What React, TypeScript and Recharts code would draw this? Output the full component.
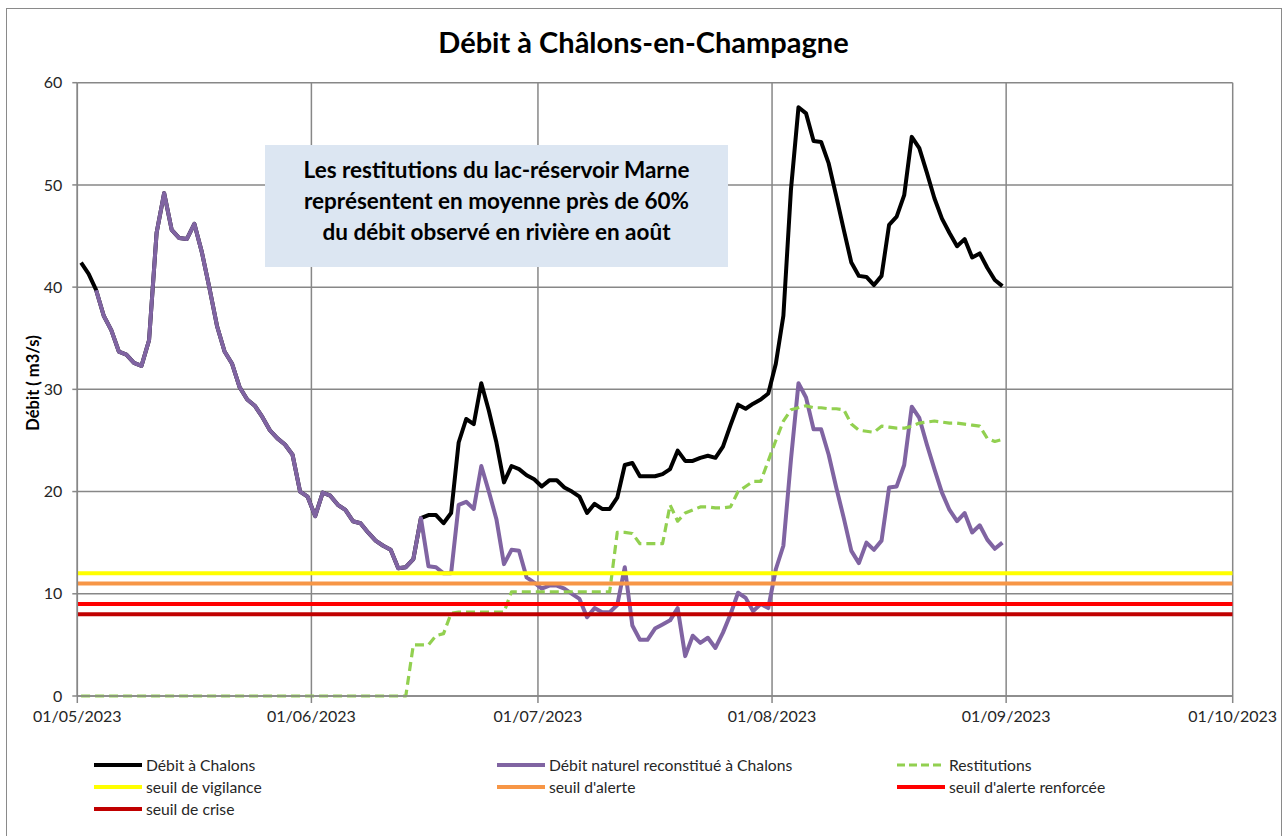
import React from "react";
import { LineChart, Line, XAxis, YAxis, CartesianGrid } from "recharts";

// Day index 0 = 01/05/2023 (daily values)
const debitChalons: number[] = [
  42.4, 41.3, 39.7, 37.2, 35.8, 33.7, 33.4, 32.6, 32.3, 34.8,
  45.3, 49.2, 45.6, 44.8, 44.7, 46.2, 43.4, 39.9, 36.2, 33.7,
  32.5, 30.2, 29.0, 28.4, 27.3, 26.0, 25.2, 24.6, 23.6, 20.0,
  19.5, 17.6, 19.9, 19.6, 18.7, 18.2, 17.1, 16.9, 16.0, 15.2,
  14.7, 14.3, 12.5, 12.6, 13.4, 17.4, 17.7, 17.7, 16.9, 17.9,
  24.8, 27.1, 26.6, 30.6, 27.9, 24.8, 20.9, 22.5, 22.2, 21.6,
  21.2, 20.5, 21.1, 21.1, 20.4, 20.0, 19.5, 17.9, 18.8, 18.3,
  18.3, 19.4, 22.6, 22.8, 21.5, 21.5, 21.5, 21.7, 22.2, 24.0,
  23.0, 23.0, 23.3, 23.5, 23.3, 24.4, 26.5, 28.5, 28.1, 28.6,
  29.0, 29.6, 32.5, 37.2, 49.5, 57.6, 57.0, 54.3, 54.2, 52.1,
  48.9, 45.6, 42.4, 41.1, 41.0, 40.2, 41.1, 46.1, 46.9, 49.0,
  54.7, 53.6, 51.2, 48.7, 46.7, 45.3, 44.0, 44.7, 42.9, 43.3,
  41.9, 40.7, 40.1,
];

const debitNaturel: (number | null)[] = [
  null, null, 39.7, 37.2, 35.8, 33.7, 33.4, 32.6, 32.3, 34.8,
  45.3, 49.2, 45.6, 44.8, 44.7, 46.2, 43.4, 39.9, 36.2, 33.7,
  32.5, 30.2, 29.0, 28.4, 27.3, 26.0, 25.2, 24.6, 23.6, 20.0,
  19.5, 17.6, 19.9, 19.6, 18.7, 18.2, 17.1, 16.9, 16.0, 15.2,
  14.7, 14.3, 12.5, 12.6, 13.4, 17.4, 12.7, 12.6, 12.0, 12.0,
  18.7, 19.0, 18.3, 22.5, 20.0, 17.3, 12.9, 14.3, 14.2, 11.6,
  11.1, 10.5, 10.8, 10.8, 10.5, 10.0, 9.5, 7.7, 8.6, 8.2,
  8.2, 8.9, 12.6, 6.9, 5.5, 5.5, 6.6, 7.0, 7.4, 8.6,
  3.9, 5.9, 5.2, 5.7, 4.7, 6.2, 8.0, 10.1, 9.6, 8.3,
  9.0, 8.6, 12.4, 14.7, 23.1, 30.6, 29.2, 26.1, 26.1, 23.6,
  20.4, 17.4, 14.2, 13.0, 15.0, 14.3, 15.2, 20.4, 20.5, 22.6,
  28.3, 27.2, 24.6, 22.2, 19.9, 18.2, 17.1, 17.9, 16.0, 16.7,
  15.3, 14.4, 15.0,
];

const restitutions: number[] = [
  0, 0, 0, 0, 0, 0, 0, 0, 0, 0,
  0, 0, 0, 0, 0, 0, 0, 0, 0, 0,
  0, 0, 0, 0, 0, 0, 0, 0, 0, 0,
  0, 0, 0, 0, 0, 0, 0, 0, 0, 0,
  0, 0, 0, 0, 5.0, 5.0, 5.0, 5.9, 6.1, 8.1,
  8.2, 8.2, 8.2, 8.2, 8.2, 8.2, 8.2, 10.2, 10.2, 10.2,
  10.2, 10.2, 10.2, 10.2, 10.2, 10.2, 10.2, 10.2, 10.2, 10.2,
  10.2, 16.0, 16.0, 15.9, 14.9, 14.9, 14.9, 14.9, 18.7, 17.1,
  17.9, 18.2, 18.5, 18.5, 18.4, 18.4, 18.5, 20.0, 20.5, 21.0,
  21.0, 23.0, 25.0, 26.9, 28.0, 28.2, 28.4, 28.2, 28.2, 28.1,
  28.1, 28.0, 26.6, 26.0, 25.9, 25.8, 26.4, 26.3, 26.2, 26.2,
  26.4, 26.7, 26.8, 26.9, 26.8, 26.7, 26.7, 26.6, 26.5, 26.4,
  25.2, 24.9, 25.1,
];

const seuilVigilance = 12;
const seuilAlerte = 11;
const seuilAlerteRenforcee = 9;
const seuilCrise = 8;

const tickDays = [0, 31, 61, 92, 123, 153];
const tickLabels = ["01/05/2023", "01/06/2023", "01/07/2023", "01/08/2023", "01/09/2023", "01/10/2023"];
const yTicks = [0, 10, 20, 30, 40, 50, 60];

const rows = debitChalons.map((v, i) => ({
  day: i + 0.5,
  chalons: v,
  naturel: debitNaturel[i],
  restit: restitutions[i],
}));

const domainStart = tickDays[0];
const domainEnd = tickDays[tickDays.length - 1];
const flat = (v: number) => [
  { day: domainStart, v },
  { day: domainEnd, v },
];

const FONT = "Lato, 'Open Sans', sans-serif";
const GRID = "#878787";

const legendItems = [
  { label: "Débit à Chalons", color: "#000000", dash: false, col: 0, row: 0 },
  { label: "Débit naturel reconstitué à Chalons", color: "#8064A2", dash: false, col: 1, row: 0 },
  { label: "Restitutions", color: "#92D050", dash: true, col: 2, row: 0 },
  { label: "seuil de vigilance", color: "#FFFF00", dash: false, col: 0, row: 1 },
  { label: "seuil d'alerte", color: "#F79646", dash: false, col: 1, row: 1 },
  { label: "seuil d'alerte renforcée", color: "#FF0000", dash: false, col: 2, row: 1 },
  { label: "seuil de crise", color: "#C00000", dash: false, col: 0, row: 2 },
];
const colX = [94, 497, 897];
const rowY = [765, 787, 809];

export default function App() {
  return (
    <div style={{ position: "relative", width: 1287, height: 836, overflow: "hidden", background: "#fff", fontFamily: FONT }}>
      <style>{`html,body{margin:0;padding:0;overflow:hidden;background:#fff}`}</style>
      <div
        style={{
          position: "absolute",
          left: 6,
          top: 8,
          width: 1276,
          height: 840,
          border: "1.5px solid #8a8a8a",
          boxSizing: "border-box",
        }}
      />
      <div
        style={{
          position: "absolute",
          left: 0,
          top: 23,
          width: 1287,
          textAlign: "center",
          fontSize: 29,
          fontWeight: 700,
          lineHeight: "38px",
          color: "#000",
        }}
      >
        Débit à Châlons-en-Champagne
      </div>
      <div style={{ position: "absolute", left: 0, top: 0 }}>
        <LineChart
          width={1287}
          height={836}
          data={rows}
          margin={{ top: 82.7, right: 54.3, bottom: 110, left: 0 }}
        >
          <CartesianGrid stroke={GRID} strokeWidth={1.5} />
          <XAxis
            dataKey="day"
            type="number"
            domain={[domainStart, domainEnd]}
            ticks={tickDays}
            interval={0}
            tickFormatter={(v: number) => tickLabels[tickDays.indexOf(v)]}
            height={30}
            tickSize={7}
            tickMargin={8}
            axisLine={{ stroke: GRID, strokeWidth: 1.5 }}
            tickLine={{ stroke: GRID, strokeWidth: 1.5 }}
            tick={{ fill: "#262626", fontSize: 16, fontFamily: FONT }}
            allowDataOverflow
          />
          <YAxis
            type="number"
            domain={[0, 60]}
            ticks={yTicks}
            interval={0}
            width={77.3}
            tickSize={5}
            tickMargin={10}
            axisLine={{ stroke: GRID, strokeWidth: 1.5 }}
            tickLine={{ stroke: GRID, strokeWidth: 1.5 }}
            tick={{ fill: "#262626", fontSize: 16, fontFamily: FONT }}
          />
          <Line type="linear" dataKey="chalons" stroke="#000000" strokeWidth={4} dot={false} activeDot={false} isAnimationActive={false} strokeLinejoin="round" />
          <Line type="linear" dataKey="naturel" stroke="#8064A2" strokeWidth={4} dot={false} activeDot={false} isAnimationActive={false} strokeLinejoin="round" />
          <Line type="linear" dataKey="restit" stroke="#92D050" strokeWidth={3.2} strokeDasharray="9 5" dot={false} activeDot={false} isAnimationActive={false} strokeLinejoin="round" />
          <Line type="linear" data={flat(seuilVigilance)} dataKey="v" stroke="#FFFF00" strokeWidth={4} dot={false} activeDot={false} isAnimationActive={false} />
          <Line type="linear" data={flat(seuilAlerte)} dataKey="v" stroke="#F79646" strokeWidth={4} dot={false} activeDot={false} isAnimationActive={false} />
          <Line type="linear" data={flat(seuilAlerteRenforcee)} dataKey="v" stroke="#FF0000" strokeWidth={4} dot={false} activeDot={false} isAnimationActive={false} />
          <Line type="linear" data={flat(seuilCrise)} dataKey="v" stroke="#C00000" strokeWidth={4} dot={false} activeDot={false} isAnimationActive={false} />
        </LineChart>
      </div>
      <div
        style={{
          position: "absolute",
          left: 33,
          top: 383,
          transform: "translate(-50%, -50%) rotate(-90deg)",
          fontSize: 16.5,
          fontWeight: 700,
          whiteSpace: "nowrap",
          color: "#000",
        }}
      >
        Débit ( m3/s)
      </div>
      <div
        style={{
          position: "absolute",
          left: 265,
          top: 145,
          width: 463,
          height: 122,
          background: "#DCE6F2",
          boxSizing: "border-box",
          paddingTop: 9,
          textAlign: "center",
          fontSize: 22.5,
          fontWeight: 700,
          lineHeight: "31px",
          color: "#000",
        }}
      >
        Les restitutions du lac-réservoir Marne
        <br />
        représentent en moyenne près de 60%
        <br />
        du débit observé en rivière en août
      </div>
      {legendItems.map((it) => (
        <div
          key={it.label}
          style={{
            position: "absolute",
            left: colX[it.col],
            top: rowY[it.row] - 10,
            height: 20,
            display: "flex",
            alignItems: "center",
            whiteSpace: "nowrap",
            fontSize: 15.7,
            color: "#262626",
          }}
        >
          <svg width={48} height={8} style={{ marginRight: 4 }}>
            <line
              x1={0}
              y1={4}
              x2={48}
              y2={4}
              stroke={it.color}
              strokeWidth={it.dash ? 3 : 4}
              strokeDasharray={it.dash ? "8 4" : undefined}
            />
          </svg>
          <span>{it.label}</span>
        </div>
      ))}
    </div>
  );
}
